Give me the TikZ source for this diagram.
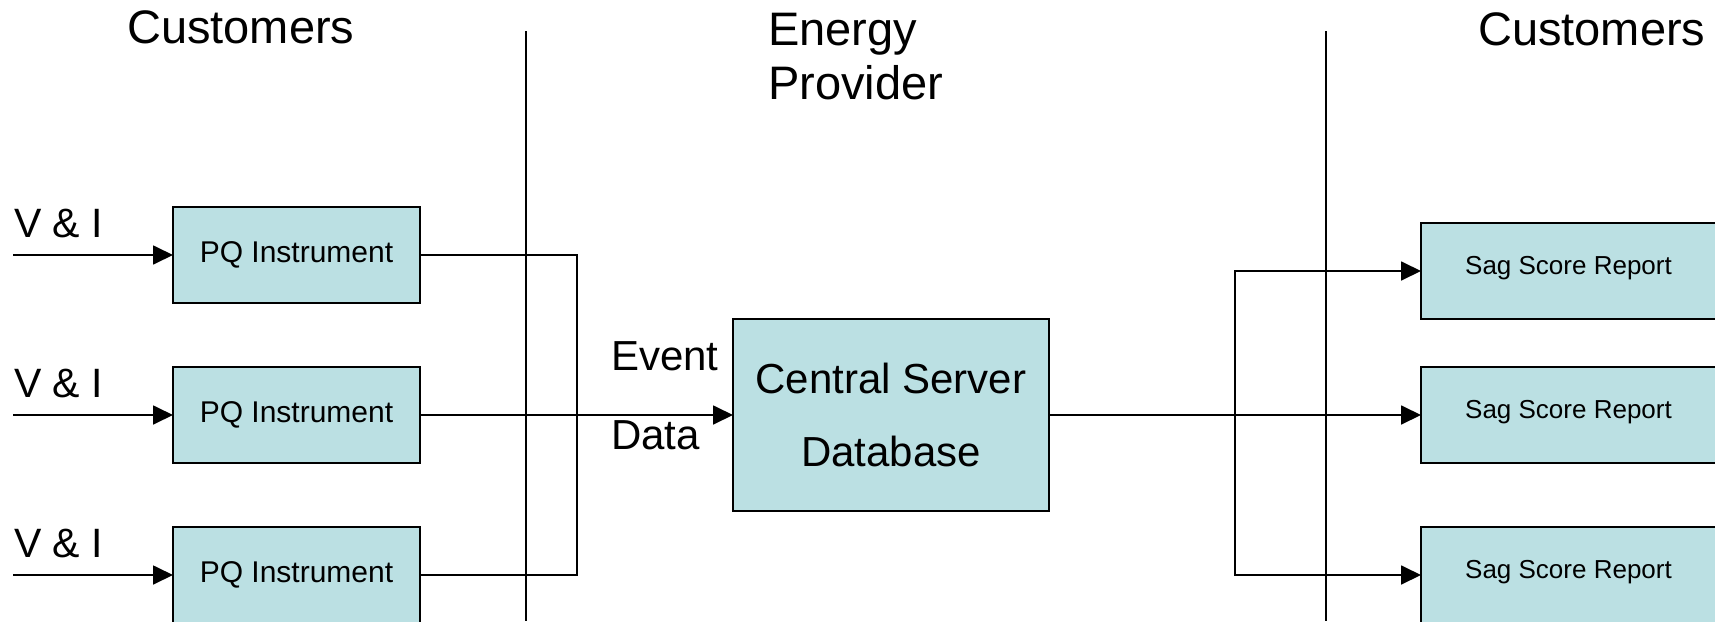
\documentclass[tikz,border=0pt]{standalone}
\usepackage{fontspec}
\setmainfont{Liberation Sans}
\usetikzlibrary{arrows.meta}
\definecolor{boxfill}{RGB}{187,224,227}
\tikzset{
  blk/.style={draw=black, line width=1.8pt, fill=boxfill, inner sep=0pt, outer sep=0pt},
  pqbox/.style={blk, minimum width=247pt, minimum height=96pt, font=\fontsize{30}{36}\selectfont},
  sagbox/.style={blk, minimum width=295pt, minimum height=96pt, text height=19pt, text depth=13pt, font=\fontsize{26}{30}\selectfont},
  csbox/.style={blk, minimum width=316pt, minimum height=192pt, align=center, font=\fontsize{42}{73}\selectfont},
  hdr/.style={anchor=base west, inner sep=0pt, font=\fontsize{47}{54}\selectfont},
  lbl/.style={anchor=base west, inner sep=0pt, font=\fontsize{42}{48}\selectfont},
  vil/.style={anchor=base west, inner sep=0pt, font=\fontsize{41}{48}\selectfont},
  conn/.style={line width=1.8pt},
  arr/.style={conn, -{Triangle[length=20pt,width=19pt]}},
  divider/.style={line width=1.4pt}
}
\begin{document}
\begin{tikzpicture}[x=1pt,y=-1pt]
\useasboundingbox (0,0) rectangle (1715,621);
\clip (0,0) rectangle (1715,621);
\fill[white] (0,0) rectangle (1715,621);

% dividers
\coordinate (d1t) at (526,31);
\coordinate (d1b) at (526,621);
\coordinate (d2t) at (1326,31);
\coordinate (d2b) at (1326,621);
\draw[divider] (d1t) -- (d1b);
\draw[divider] (d2t) -- (d2b);

% headers
\node[hdr] (h1) at (127,43) {Customers};
\node[hdr] (h2a) at (768,45) {Energy};
\node[hdr] (h2b) at (768,99) {Provider};
\node[hdr] (h3) at (1478,45) {Customers};

% PQ instruments
\node[pqbox] (pq1) at (296.5,255) {PQ Instrument};
\node[pqbox] (pq2) at (296.5,415) {PQ Instrument};
\node[pqbox] (pq3) at (296.5,575) {PQ Instrument};

% V & I labels
\node[vil] (v1) at (14,237) {V \& I};
\node[vil] (v2) at (14,397) {V \& I};
\node[vil] (v3) at (14,557) {V \& I};

\coordinate (in1) at (13,255);
\coordinate (in2) at (13,415);
\coordinate (in3) at (13,575);
\draw[arr] (in1) -- (pq1.west);
\draw[arr] (in2) -- (pq2.west);
\draw[arr] (in3) -- (pq3.west);

% central server
\node[csbox] (cs) at (891,415) {Central Server\\Database};
\node[lbl] (ev) at (611,370) {Event};
\node[lbl] (da) at (611,449) {Data};

% left collector
\coordinate (jL) at (577,415);
\draw[conn] (pq1.east) -| (jL);
\draw[conn] (pq3.east) -| (jL);
\draw[arr] (pq2.east) -- (cs.west);

% reports
\node[sagbox] (s1) at (1568.5,271) {Sag Score Report};
\node[sagbox] (s2) at (1568.5,415) {Sag Score Report};
\node[sagbox] (s3) at (1568.5,575) {Sag Score Report};

\coordinate (jR) at (1235,415);
\draw[arr] (cs.east) -- (s2.west);
\draw[arr] (jR) |- (s1.west);
\draw[arr] (jR) |- (s3.west);
\end{tikzpicture}
\end{document}
